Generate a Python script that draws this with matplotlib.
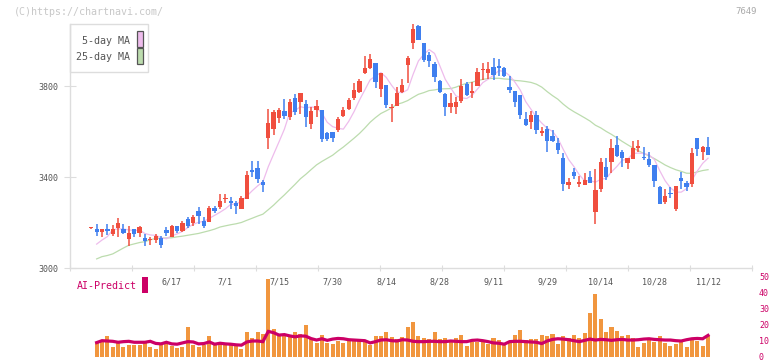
import numpy as np
import pandas as pd
import matplotlib
matplotlib.use('Agg')
import matplotlib.pyplot as plt
from matplotlib.patches import Rectangle

# daily candles (index 0 .. 115), prices in yen
opens = [3174, 3171, 3160, 3171, 3148, 3177, 3171, 3126, 3171, 3155,
         3132, 3121, 3123, 3132, 3167, 3138, 3186, 3164, 3215, 3199,
         3251, 3207, 3204, 3264, 3268, 3302, 3294, 3286, 3261, 3302,
         3431, 3440, 3378, 3573, 3610, 3661, 3690, 3665, 3747, 3730,
         3721, 3632, 3697, 3697, 3595, 3596, 3607, 3668, 3699, 3749,
         3775, 3856, 3878, 3903, 3785, 3804, 3702, 3713, 3775, 3892,
         3988, 4065, 3990, 3936, 3897, 3822, 3765, 3709, 3709, 3735,
         3809, 3768, 3801, 3871, 3856, 3885, 3888, 3881, 3794, 3778,
         3761, 3655, 3643, 3673, 3592, 3611, 3580, 3551, 3485, 3365,
         3422, 3369, 3365, 3400, 3248, 3347, 3445, 3467, 3541, 3508,
         3463, 3479, 3529, 3488, 3479, 3453, 3357, 3292, 3330, 3259,
         3397, 3375, 3369, 3573, 3511, 3533]
highs = [3177, 3193, 3171, 3193, 3189, 3221, 3193, 3186, 3173, 3186,
         3149, 3135, 3149, 3142, 3182, 3189, 3186, 3207, 3226, 3233,
         3268, 3226, 3273, 3273, 3324, 3324, 3312, 3294, 3316, 3428,
         3470, 3470, 3387, 3699, 3694, 3703, 3743, 3743, 3765, 3769,
         3738, 3706, 3738, 3697, 3599, 3596, 3662, 3706, 3749, 3812,
         3829, 3932, 3941, 3903, 3859, 3804, 3721, 3797, 3829, 3932,
         4071, 4070, 3990, 3951, 3907, 3826, 3771, 3771, 3753, 3829,
         3819, 3819, 3878, 3900, 3904, 3925, 3917, 3882, 3844, 3778,
         3761, 3687, 3690, 3692, 3621, 3624, 3607, 3570, 3504, 3394,
         3441, 3404, 3416, 3426, 3435, 3482, 3482, 3567, 3580, 3519,
         3485, 3558, 3563, 3530, 3508, 3453, 3360, 3347, 3357, 3360,
         3422, 3382, 3526, 3573, 3536, 3577]
lows = [3172, 3142, 3138, 3145, 3142, 3138, 3148, 3098, 3138, 3138,
        3098, 3102, 3110, 3089, 3142, 3138, 3155, 3160, 3177, 3186,
        3193, 3177, 3204, 3243, 3261, 3284, 3261, 3239, 3258, 3302,
        3401, 3372, 3336, 3522, 3583, 3639, 3656, 3651, 3673, 3678,
        3621, 3611, 3665, 3555, 3560, 3552, 3599, 3662, 3694, 3738,
        3768, 3853, 3873, 3790, 3753, 3702, 3643, 3713, 3768, 3812,
        3963, 4002, 3907, 3885, 3819, 3771, 3668, 3680, 3677, 3724,
        3756, 3746, 3800, 3826, 3829, 3826, 3844, 3841, 3771, 3706,
        3655, 3626, 3611, 3589, 3580, 3511, 3555, 3500, 3340, 3347,
        3390, 3356, 3365, 3375, 3193, 3336, 3387, 3419, 3486, 3445,
        3437, 3479, 3511, 3475, 3445, 3357, 3281, 3281, 3306, 3252,
        3347, 3338, 3357, 3494, 3475, 3497]
closes = [3175, 3160, 3171, 3163, 3171, 3196, 3155, 3152, 3151, 3180,
          3120, 3124, 3142, 3102, 3155, 3186, 3164, 3199, 3186, 3226,
          3230, 3186, 3264, 3252, 3294, 3305, 3284, 3274, 3308, 3409,
          3423, 3390, 3366, 3639, 3684, 3694, 3668, 3730, 3686, 3769,
          3665, 3692, 3712, 3567, 3567, 3570, 3655, 3694, 3738, 3782,
          3822, 3878, 3919, 3819, 3859, 3716, 3704, 3771, 3804, 3925,
          4051, 4002, 3914, 3911, 3841, 3775, 3709, 3727, 3731, 3800,
          3760, 3780, 3863, 3873, 3875, 3848, 3881, 3844, 3782, 3731,
          3673, 3629, 3673, 3609, 3602, 3560, 3560, 3519, 3369, 3378,
          3404, 3378, 3387, 3375, 3343, 3467, 3399, 3529, 3494, 3482,
          3485, 3529, 3536, 3485, 3453, 3384, 3281, 3316, 3327, 3360,
          3384, 3357, 3507, 3523, 3530, 3497]

ma5_head = [3105, 3123, 3138]                       # candles 1..3
ma25_head = [3040, 3050, 3055, 3062, 3075, 3088, 3100, 3106, 3112, 3116,
             3124, 3130, 3131, 3132, 3133, 3137, 3140, 3144, 3148, 3152,
             3158, 3164, 3171]                      # candles 1..23

# lower panel, candles 1..115
volume = [8.5, 9.6, 13.1, 6.2, 8.5, 6.2, 7.5, 7.5, 7.5, 8.5,
          6.2, 4.8, 7.5, 8.5, 6.9, 5.4, 6.2, 18.7, 7.5, 6.2,
          7.5, 13.1, 7.5, 9.6, 7.5, 7.5, 6.9, 4.8, 15.4, 11.6,
          15.4, 14.2, 49.0, 17.3, 13.1, 14.2, 13.1, 15.4, 14.2, 19.8,
          11.6, 8.5, 13.5, 8.5, 7.9, 10.0, 8.5, 10.0, 11.0, 10.0,
          10.0, 7.5, 13.1, 13.1, 15.4, 12.5, 11.0, 12.5, 18.7, 21.9,
          13.1, 11.6, 11.0, 15.4, 11.0, 11.6, 9.6, 11.6, 13.5, 6.9,
          9.6, 9.6, 9.6, 7.9, 11.6, 10.4, 7.3, 9.6, 13.5, 16.6,
          10.4, 11.0, 11.0, 13.5, 13.1, 14.2, 7.9, 13.1, 11.6, 13.5,
          11.6, 14.8, 27.3, 39.2, 23.5, 15.4, 18.7, 16.0, 13.1, 13.5,
          12.0, 6.2, 8.5, 10.6, 9.6, 13.1, 8.5, 6.9, 7.9, 9.6,
          6.2, 10.6, 10.0, 6.9, 13.1]
ai_predict = [9.0, 10.2, 10.0, 9.8, 9.2, 9.6, 9.8, 9.2, 9.2, 9.2,
              9.8, 8.5, 8.2, 9.2, 8.2, 8.0, 8.8, 9.6, 9.4, 8.2,
              8.4, 9.4, 8.0, 8.6, 8.2, 8.0, 7.6, 7.4, 9.4, 10.0,
              10.0, 9.6, 16.0, 15.2, 13.7, 14.0, 13.2, 12.6, 13.2, 13.0,
              11.5, 10.6, 11.4, 10.4, 11.2, 11.6, 11.4, 10.8, 10.6, 10.4,
              10.2, 8.8, 9.6, 10.6, 10.8, 10.2, 10.0, 10.8, 10.6, 9.8,
              9.6, 9.6, 9.8, 9.8, 9.6, 9.6, 10.0, 9.8, 9.6, 9.6,
              10.4, 10.6, 10.2, 9.6, 8.8, 8.6, 8.0, 9.6, 9.8, 9.8,
              9.6, 9.4, 9.2, 8.4, 10.0, 11.0, 11.4, 11.2, 10.8, 10.2,
              9.6, 10.4, 11.2, 10.6, 11.0, 10.8, 10.4, 10.8, 11.0, 10.6,
              10.6, 10.8, 11.2, 11.4, 11.0, 10.8, 10.6, 10.6, 10.2, 10.0,
              10.8, 11.4, 11.6, 11.4, 13.5]

date_labels = ['6/17', '7/1', '7/15', '7/30', '8/14', '8/28', '9/11', '9/29', '10/14', '10/28', '11/12']
date_pos = [15, 25, 35, 45, 55, 65, 75, 85, 95, 105, 115]
price_ticks = [3000, 3400, 3800]
vol_ticks = [0, 10, 20, 30, 40, 50]

RED = '#f04e3e'
BLUE = '#3f7fef'
PINK = '#eebcec'
GREEN = '#bcdcae'
ORANGE = '#f1963e'
CRIMSON = '#cc0066'
GRID = '#dddddd'
TXT = '#555555'

W, H = 772, 361
plt.rcParams['font.family'] = ['DejaVu Sans Mono']


def box(x0, y0, x1, y1):
    # pixel box (origin top-left) -> figure fraction
    return [x0 / W, 1 - y1 / H, (x1 - x0) / W, (y1 - y0) / H]


def add_rect(x0, y0, x1, y1, **kw):
    b = box(x0, y0, x1, y1)
    fig.add_artist(Rectangle(b[:2], b[2], b[3], transform=fig.transFigure, **kw))


fig = plt.figure(figsize=(W / 100, H / 100), dpi=100)
ax = fig.add_axes(box(70, 24, 752, 268))
axv = fig.add_axes(box(70, 277, 752, 357))

n = len(closes)
idx = np.arange(n)
o = np.array(opens, dtype=float)
c = np.array(closes, dtype=float)
colors = np.where(c >= o, RED, BLUE)

ma5 = pd.Series(c).rolling(5).mean()
ma5.iloc[1:4] = ma5_head
ma25 = pd.Series(c).rolling(25).mean()
ma25.iloc[1:24] = ma25_head

ax.plot(idx[1:], ma25[1:], color=GREEN, lw=0.9, zorder=1)
ax.plot(idx[1:], ma5[1:], color=PINK, lw=0.9, zorder=1)
ax.vlines(idx, lows, highs, colors=colors, lw=1.1, zorder=2)
ax.bar(idx, np.maximum(np.abs(c - o), 4.5), bottom=np.minimum(o, c),
       width=0.8, color=colors, lw=0, zorder=3)

ax.set_xlim(-3.97, 123.2)
ax.set_ylim(3000, 4073)
for s in ['top', 'right']:
    ax.spines[s].set_visible(False)
for s in ['left', 'bottom']:
    ax.spines[s].set_color(GRID)
    ax.spines[s].set_linewidth(1)
ax.set_yticks(price_ticks)
ax.tick_params(axis='y', direction='inout', length=8, color=GRID, labelsize=6,
               labelcolor=TXT, pad=4)
ax.set_xticks(np.linspace(-3.97, 123.2, 12))
ax.set_xticklabels([])
ax.tick_params(axis='x', direction='inout', length=5, color=GRID)

# volume / AI-Predict panel
axv.bar(idx[1:], volume, width=0.75, color=ORANGE, lw=0)
axv.plot(idx[1:], ai_predict, color=CRIMSON, lw=2.3, solid_joinstyle='miter')
axv.set_xlim(-3.97, 123.2)
axv.set_ylim(0, 50)
for s in axv.spines.values():
    s.set_visible(False)
axv.set_xticks([])
axv.set_yticks(vol_ticks)
axv.yaxis.tick_right()
axv.tick_params(axis='y', length=0, labelsize=6, labelcolor=CRIMSON, pad=5)

for lab, pos in zip(date_labels, date_pos):
    axv.text(pos, 0.94, lab, transform=axv.get_xaxis_transform(),
             ha='center', va='center', fontsize=6, color=TXT)

# legend box
add_rect(70, 24, 148, 72, fill=False, ec=GRID, lw=1)
add_rect(137, 31, 142.5, 47, fc=PINK, ec='#555555', lw=0.9)
add_rect(137, 48.5, 142.5, 63.5, fc=GREEN, ec='#555555', lw=0.9)
fig.text(129.5 / W, 1 - 40.5 / H, '5-day MA', ha='right', va='center', fontsize=7.2, color=TXT)
fig.text(129.5 / W, 1 - 56.5 / H, '25-day MA', ha='right', va='center', fontsize=7.2, color=TXT)

fig.text(77 / W, 1 - 286 / H, 'AI-Predict', ha='left', va='center', fontsize=7.2, color=CRIMSON)
add_rect(142, 277, 148, 293, fc=CRIMSON, lw=0)

fig.text(14 / W, 1 - 12 / H, '(C)https://chartnavi.com/', ha='left', va='center',
         fontsize=7.2, color='#c8c8c8')
fig.text(757 / W, 1 - 12 / H, '7649', ha='right', va='center', fontsize=6.5, color='#aaaaaa')

fig.savefig('out.png', dpi=100)
